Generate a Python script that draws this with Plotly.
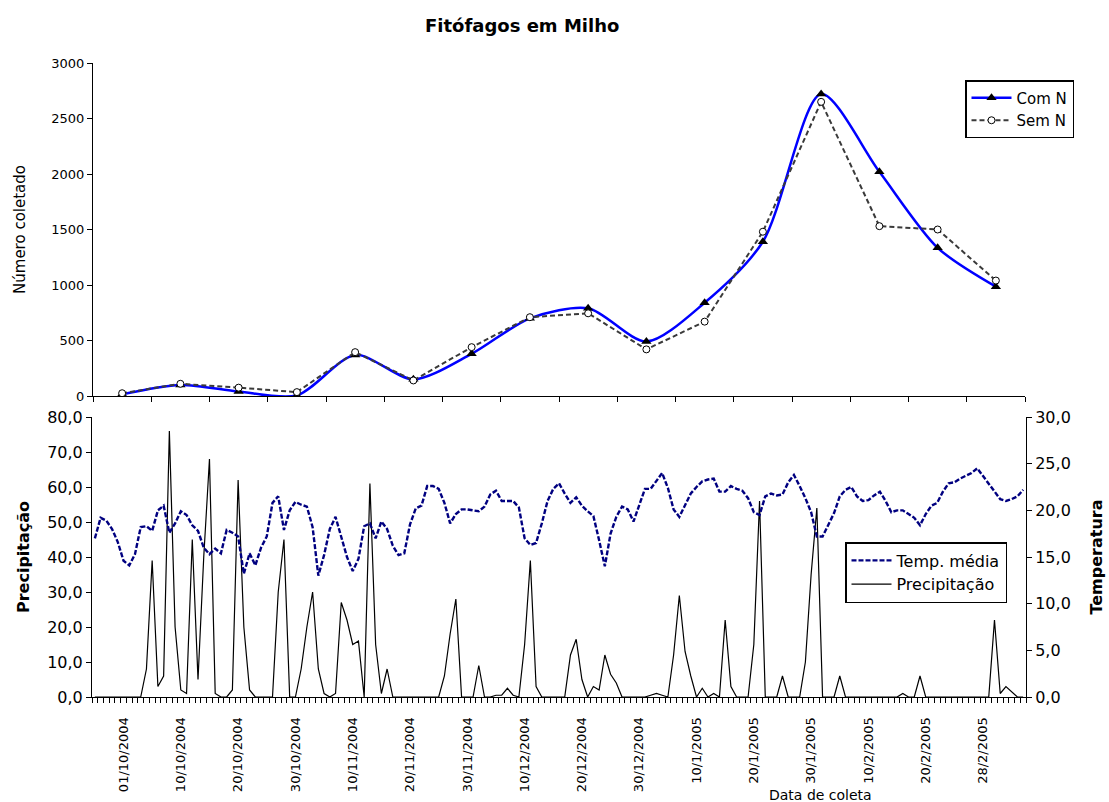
import plotly.graph_objects as go

# ---------------- data ----------------
# top chart: 16 sampling dates (category positions)
coleta = list(range(1, 17))
com_n = [15, 100, 40, 5, 370, 150, 380, 700, 790, 490, 840, 1390, 2720, 2020, 1335, 985]
sem_n = [25, 110, 75, 35, 395, 140, 440, 710, 745, 420, 670, 1480, 2650, 1530, 1500, 1040]

# bottom chart: daily series (163 days)
precipitacao = [
    0, 0, 0, 0, 0, 0, 0, 0, 0, 8,
    39, 3, 6, 76, 20, 2, 1, 45, 5, 40,
    68, 1, 0, 0, 2, 62, 20, 2, 0, 0,
    0, 0, 30, 45, 0, 0, 8, 20, 30, 8,
    1, 0, 1, 27, 22, 15, 16, 0, 61, 15,
    1, 8, 0, 0, 0, 0, 0, 0, 0, 0,
    0, 6, 18, 28, 0, 0, 0, 9, 0, 0,
    0.5, 0.5, 2.5, 0.5, 0, 15, 39, 3, 0, 0,
    0, 0, 0, 12, 16.5, 5, 0, 3, 2, 12,
    6.5, 4, 0, 0, 0, 0, 0, 0.5, 1, 0.5,
    0, 12, 29, 13, 6, 0, 2.5, 0, 1, 0,
    22, 3, 0, 0, 0, 15, 56, 0, 0, 0,
    6, 0, 0, 0, 10, 35, 54, 0, 0, 0,
    6, 0, 0, 0, 0, 0, 0, 0, 0, 0,
    0, 1, 0, 0, 6, 0, 0, 0, 0, 0,
    0, 0, 0, 0, 0, 0, 0, 22, 1, 3,
    1.5, 0, 0,
]

temp_media = [
    17.0, 19.2, 18.9, 18.0, 16.6, 14.6, 14.1, 15.3, 18.2, 18.3,
    17.8, 20.0, 20.5, 17.6, 18.6, 19.9, 19.5, 18.4, 17.8, 16.0,
    15.3, 15.9, 15.4, 17.9, 17.6, 17.2, 13.2, 15.4, 14.1, 16.0,
    17.2, 20.8, 21.5, 17.9, 20.0, 20.9, 20.6, 20.4, 18.2, 13.0,
    15.2, 18.0, 19.3, 17.0, 15.0, 13.5, 14.8, 18.3, 18.6, 17.0,
    18.8, 18.0, 16.2, 15.2, 15.4, 18.5, 20.2, 20.5, 22.6, 22.6,
    22.3, 20.8, 18.6, 19.6, 20.1, 20.1, 20.0, 19.9, 20.4, 21.7,
    22.1, 21.0, 21.0, 21.0, 20.3, 17.0, 16.3, 16.5, 18.6, 21.0,
    22.3, 22.9, 21.8, 20.8, 21.4, 20.5, 19.9, 19.4, 16.8, 14.0,
    17.5, 19.3, 20.4, 20.1, 18.8, 20.6, 22.3, 22.3, 23.2, 24.0,
    22.4, 20.1, 19.3, 20.6, 21.8, 22.5, 23.1, 23.3, 23.4, 22.0,
    22.0, 22.6, 22.3, 22.1, 21.3, 19.8, 19.5, 21.5, 21.8, 21.6,
    21.7, 23.0, 23.8, 22.6, 21.3, 19.8, 17.2, 17.2, 18.4, 19.7,
    21.5, 22.2, 22.5, 21.5, 21.0, 21.1, 21.6, 22.0, 21.0, 19.8,
    20.0, 20.0, 19.6, 19.2, 18.4, 19.6, 20.5, 20.8, 22.0, 22.9,
    23.0, 23.4, 23.7, 24.0, 24.5, 23.7, 22.8, 22.0, 21.2, 21.0,
    21.2, 21.5, 22.2,
]

dia = list(range(len(precipitacao)))

label_idx = [5, 15, 25, 35, 45, 55, 65, 75, 85, 95, 105, 115, 125, 135, 145, 155]
label_txt = ["01/10/2004", "10/10/2004", "20/10/2004", "30/10/2004", "10/11/2004",
             "20/11/2004", "30/11/2004", "10/12/2004", "20/12/2004", "30/12/2004",
             "10/1/2005", "20/1/2005", "30/1/2005", "10/2/2005", "20/2/2005", "28/2/2005"]

# ---------------- figure ----------------
W, H = 1109, 802
FONT = "DejaVu Sans"

fig = go.Figure()

top_x = [c - 1 for c in coleta]
fig.add_trace(go.Scatter(
    x=top_x, y=com_n, name="Com N", mode="lines+markers",
    line=dict(color="#0000FF", width=2.5, shape="spline", smoothing=0.8),
    marker=dict(symbol="triangle-up", color="black", size=9),
    xaxis="x", yaxis="y", legend="legend"))
fig.add_trace(go.Scatter(
    x=top_x, y=sem_n, name="Sem N", mode="lines+markers",
    line=dict(color="#3a3a3a", width=2, dash="5px,3px"),
    marker=dict(symbol="circle", color="white", size=7, line=dict(color="black", width=1)),
    xaxis="x", yaxis="y", legend="legend"))

fig.add_trace(go.Scatter(
    x=dia, y=temp_media, name="Temp. média", mode="lines",
    line=dict(color="#000080", width=2.4, dash="5px,2px"),
    xaxis="x2", yaxis="y3", legend="legend2"))
fig.add_trace(go.Scatter(
    x=dia, y=precipitacao, name="Precipitação", mode="lines",
    line=dict(color="black", width=1.2),
    xaxis="x2", yaxis="y2", legend="legend2"))

axis_common = dict(showgrid=False, zeroline=False, showline=True, linecolor="black",
                   linewidth=1, ticks="outside", tickcolor="black", ticklen=5,
                   automargin=False)

fig.update_layout(
    width=W, height=H,
    margin=dict(l=0, r=0, t=0, b=0, autoexpand=False),
    paper_bgcolor="white", plot_bgcolor="white",
    separators=",.",
    font=dict(family=FONT, color="black"),
    showlegend=True,
    xaxis=dict(axis_common, domain=[93 / W, 1025 / W], range=[-0.5, 15.5],
               tickmode="linear", tick0=-0.5, dtick=1, showticklabels=False,
               anchor="y"),
    yaxis=dict(axis_common, domain=[(H - 396) / H, (H - 63) / H], range=[0, 3000],
               tickmode="linear", tick0=0, dtick=500, tickformat="d",
               tickfont=dict(size=13),
               title=dict(text="Número coletado", font=dict(size=15), standoff=22),
               anchor="x"),
    xaxis2=dict(axis_common, domain=[92 / W, 1026 / W], range=[-0.5, 162.5],
                tickmode="array", tickvals=label_idx, ticktext=label_txt,
                tickangle=-90, ticks="", ticklabelstandoff=14,
                tickfont=dict(size=13),
                minor=dict(tickmode="linear", tick0=-0.5, dtick=1, ticks="outside",
                           ticklen=5, tickcolor="black"),
                anchor="y2"),
    yaxis2=dict(axis_common, domain=[(H - 697) / H, (H - 417) / H], range=[0, 80],
                tickmode="linear", tick0=0, dtick=10, tickformat=".1f",
                tickfont=dict(size=16),
                title=dict(text="<b>Precipitação</b>", font=dict(size=16), standoff=13),
                anchor="x2"),
    yaxis3=dict(axis_common, domain=[(H - 697) / H, (H - 417) / H], range=[0, 30],
                tickmode="linear", tick0=0, dtick=5, tickformat=".1f",
                tickfont=dict(size=16), side="right", overlaying="y2",
                title=dict(text="<b>Temperatura</b>", font=dict(size=16), standoff=20),
                anchor="x2"),
    legend=dict(x=965 / W, y=1 - 80 / H, xanchor="left", yanchor="top",
                bgcolor="white", bordercolor="black", borderwidth=1.5,
                font=dict(size=15), itemwidth=40, tracegroupgap=0),
    legend2=dict(x=845 / W, y=1 - 542 / H, xanchor="left", yanchor="top",
                 bgcolor="white", bordercolor="black", borderwidth=1.5,
                 font=dict(size=16), itemwidth=40, tracegroupgap=0),
    annotations=[
        dict(text="<b>Fitófagos em Milho</b>", x=522 / W, y=1 - 25 / H,
             xref="paper", yref="paper", showarrow=False,
             font=dict(size=18), xanchor="center", yanchor="middle"),
        dict(text="Data de coleta", x=820 / W, y=1 - 795 / H,
             xref="paper", yref="paper", showarrow=False,
             font=dict(size=14), xanchor="center", yanchor="middle"),
    ],
)

fig.write_html("out.html")
